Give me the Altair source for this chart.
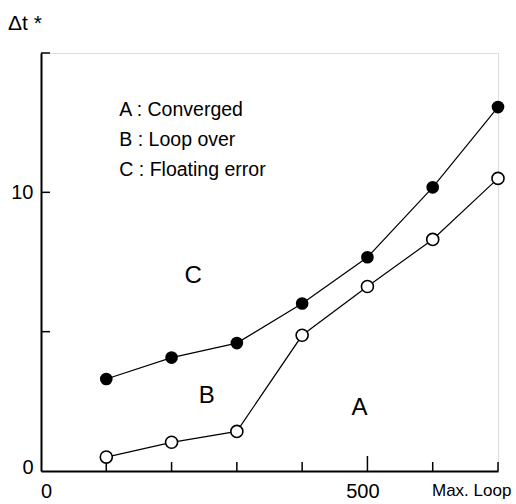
import altair as alt
import pandas as pd

# ---- data ----
loops = [100, 200, 300, 400, 500, 600, 700]
upper_dt = [3.3, 4.07, 4.59, 6.01, 7.67, 10.18, 13.06]   # filled circles
lower_dt = [0.5, 1.03, 1.42, 4.87, 6.62, 8.31, 10.5]     # open circles

x_minor_ticks = [100, 200, 300, 400, 600, 700]
x_major_ticks = [500]
y_ticks = [5, 10, 15]
x_label_values = [0, 500]
y_label_values = [0, 10]

legend_lines = ["A : Converged", "B : Loop over", "C : Floating error"]
legend_x = [120, 120, 120]
legend_y = [12.75, 11.68, 10.6]

region_text = ["C", "B", "A"]
region_x = [233, 254, 488]
region_y = [7.0, 2.68, 2.25]

FONT = "Liberation Sans"
W, H = 457, 418

upper_df = pd.DataFrame({"loop": loops, "dt": upper_dt})
lower_df = pd.DataFrame({"loop": loops, "dt": lower_dt})
xminor_df = pd.DataFrame({"loop": x_minor_ticks})
xmajor_df = pd.DataFrame({"loop": x_major_ticks})
ytick_df = pd.DataFrame({"dt": y_ticks})
legend_df = pd.DataFrame({"label": legend_lines, "loop": legend_x, "dt": legend_y})
region_df = pd.DataFrame({"label": region_text, "loop": region_x, "dt": region_y})

xscale = alt.Scale(domain=[0, 700], nice=False, zero=False)
yscale = alt.Scale(domain=[0, 15], nice=False, zero=False)

x_axis = alt.Axis(values=x_label_values, ticks=False, grid=False, title=None,
                  domain=True, domainColor="black", domainWidth=2,
                  labelFontSize=20, labelFont=FONT, labelColor="black",
                  labelPadding=10, labelFlush=False,
                  labelOffset={"condition": {"test": "datum.value == 0", "value": 5},
                               "value": -5})
y_axis = alt.Axis(values=y_label_values, ticks=False, grid=False, title=None,
                  domain=True, domainColor="black", domainWidth=2,
                  labelFontSize=20, labelFont=FONT, labelColor="black",
                  labelPadding=8, labelFlush=False,
                  labelOffset={"condition": {"test": "datum.value == 0", "value": -4},
                               "value": 0})

X = alt.X("loop:Q", scale=xscale, axis=x_axis)
Y = alt.Y("dt:Q", scale=yscale, axis=y_axis)

upper_line = alt.Chart(upper_df).mark_line(color="black", strokeWidth=1.2).encode(x=X, y=Y)
lower_line = alt.Chart(lower_df).mark_line(color="black", strokeWidth=1.2).encode(x=X, y=Y)
upper_pts = alt.Chart(upper_df).mark_point(
    shape="circle", filled=True, color="black", size=160, opacity=1
).encode(x=X, y=Y)
lower_pts = alt.Chart(lower_df).mark_point(
    shape="circle", filled=True, fill="white", stroke="black",
    strokeWidth=1.6, size=145, opacity=1
).encode(x=X, y=Y)

x_minor = alt.Chart(xminor_df).mark_rule(color="black", strokeWidth=1.5).encode(
    x=X, y=alt.value(H), y2=alt.value(H - 9),
)
x_major = alt.Chart(xmajor_df).mark_rule(color="black", strokeWidth=1.5).encode(
    x=X, y=alt.value(H), y2=alt.value(H - 15),
)
y_tick = alt.Chart(ytick_df).mark_rule(color="black", strokeWidth=1.5).encode(
    y=Y, x=alt.value(0), x2=alt.value(9),
)

legend_text = alt.Chart(legend_df).mark_text(
    align="left", baseline="alphabetic", fontSize=19.5, font=FONT, color="black"
).encode(x=X, y=Y, text="label:N")
region_labels = alt.Chart(region_df).mark_text(
    align="center", baseline="middle", fontSize=24, font=FONT, color="black"
).encode(x=X, y=Y, text="label:N")

ylab = alt.Chart(pd.DataFrame({"label": ["Δt *"]})).mark_text(
    align="left", baseline="alphabetic", fontSize=21, font=FONT, color="black"
).encode(x=alt.value(-33), y=alt.value(-23), text="label:N")

xlab = alt.Chart(pd.DataFrame({"label": ["Max. Loop"]})).mark_text(
    align="left", baseline="middle", fontSize=17, font=FONT, color="black"
).encode(x=alt.value(391), y=alt.value(H + 20), text="label:N")

chart = alt.layer(
    upper_line, lower_line, x_minor, x_major, y_tick,
    upper_pts, lower_pts, legend_text, region_labels, ylab, xlab,
).properties(
    width=W, height=H,
    autosize=alt.AutoSizeParams(type="none"),
    padding={"left": 41, "top": 53, "right": 18, "bottom": 33},
).configure_view(stroke=None).configure(background="white")

chart.save("out.html", embed_options={"renderer": "svg", "actions": False})
